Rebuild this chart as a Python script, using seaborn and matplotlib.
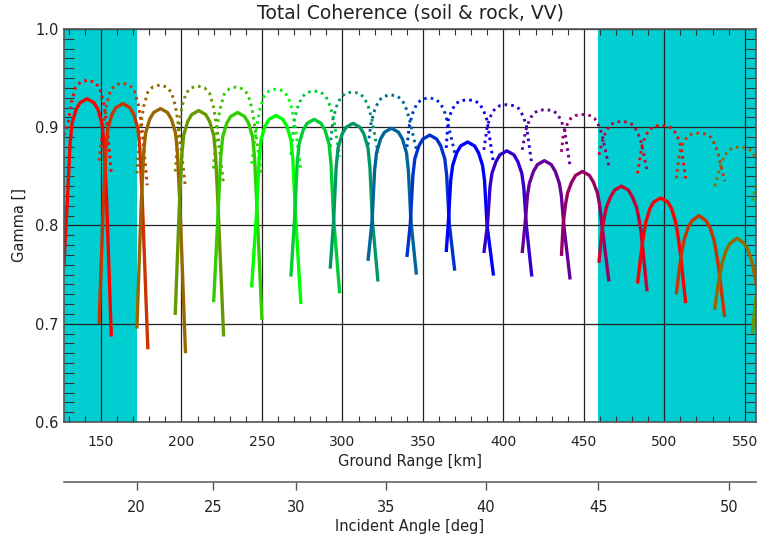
import numpy as np
import pandas as pd
import matplotlib
matplotlib.use("Agg")
import matplotlib.pyplot as plt
from matplotlib.ticker import MultipleLocator, FormatStrFormatter
import seaborn as sns

# --- data ----------------------------------------------------------------
# ground range [km] and coherence of the points along every solid arch
solid_km = [
    [126.9, 129.2, 130.8, 132.0, 134.5, 137.0, 141.3, 145.6, 148.1, 150.6, 151.8, 153.4, 156.4],
    [148.8, 151.5, 153.1, 154.3, 156.8, 159.3, 163.6, 167.9, 170.4, 172.9, 174.1, 175.7, 179.1],
    [172.3, 174.9, 176.5, 177.7, 180.2, 182.7, 187.0, 191.3, 193.8, 196.3, 197.5, 199.1, 202.5],
    [196.1, 198.6, 200.2, 201.4, 203.9, 206.4, 210.7, 215.0, 217.5, 220.0, 221.2, 222.8, 226.2],
    [220.0, 222.8, 224.4, 225.6, 228.1, 230.6, 234.9, 239.2, 241.7, 244.2, 245.4, 247.0, 250.0],
    [243.6, 246.6, 248.2, 249.4, 251.9, 254.4, 258.7, 263.0, 265.5, 268.0, 269.2, 270.8, 274.2],
    [268.0, 270.3, 271.9, 273.1, 275.6, 278.1, 282.4, 286.7, 289.2, 291.7, 292.9, 294.5, 298.3],
    [292.4, 294.5, 296.1, 297.3, 299.8, 302.3, 306.6, 310.9, 313.4, 315.9, 317.1, 318.7, 322.1],
    [315.9, 318.4, 320.0, 321.2, 323.7, 326.2, 330.5, 334.8, 337.3, 339.8, 341.0, 342.6, 346.0],
    [340.1, 342.2, 343.8, 345.0, 347.5, 350.0, 354.3, 358.6, 361.1, 363.6, 364.8, 366.4, 369.8],
    [364.5, 365.7, 367.3, 368.5, 371.0, 373.5, 377.8, 382.1, 384.6, 387.1, 388.3, 389.9, 393.9],
    [387.9, 390.1, 391.7, 392.9, 395.4, 397.9, 402.2, 406.5, 409.0, 411.5, 412.7, 414.3, 417.7],
    [411.7, 413.4, 415.0, 416.2, 418.7, 421.2, 425.5, 429.8, 432.3, 434.8, 436.0, 437.6, 441.5],
    [436.1, 437.1, 438.7, 439.9, 442.4, 444.9, 449.2, 453.5, 456.0, 458.5, 459.7, 461.3, 465.6],
    [459.4, 461.3, 462.9, 464.1, 466.6, 469.1, 473.4, 477.7, 480.2, 482.7, 483.9, 485.5, 489.3],
    [483.4, 485.7, 487.3, 488.5, 491.0, 493.5, 497.8, 502.1, 504.6, 507.1, 508.3, 509.9, 513.3],
    [507.5, 509.5, 511.1, 512.3, 514.8, 517.3, 521.6, 525.9, 528.4, 530.9, 532.1, 533.7, 537.5],
    [531.3, 533.2, 534.8, 536.0, 538.5, 541.0, 545.3, 549.6, 552.1, 554.6, 555.8, 557.4, 561.0],
    [554.7, 557.6],
]
solid_gamma = [
    [0.758, 0.829, 0.884, 0.904, 0.918, 0.925, 0.929, 0.925, 0.918, 0.904, 0.884, 0.829, 0.687],
    [0.700, 0.824, 0.879, 0.899, 0.913, 0.920, 0.924, 0.920, 0.913, 0.899, 0.879, 0.824, 0.674],
    [0.695, 0.819, 0.874, 0.894, 0.908, 0.915, 0.919, 0.915, 0.908, 0.894, 0.874, 0.819, 0.670],
    [0.709, 0.817, 0.872, 0.892, 0.906, 0.913, 0.917, 0.913, 0.906, 0.892, 0.872, 0.817, 0.687],
    [0.722, 0.815, 0.870, 0.890, 0.904, 0.911, 0.915, 0.911, 0.904, 0.890, 0.870, 0.815, 0.704],
    [0.737, 0.812, 0.867, 0.887, 0.901, 0.908, 0.912, 0.908, 0.901, 0.887, 0.867, 0.812, 0.720],
    [0.748, 0.808, 0.863, 0.883, 0.897, 0.904, 0.908, 0.904, 0.897, 0.883, 0.863, 0.808, 0.731],
    [0.756, 0.804, 0.859, 0.879, 0.893, 0.900, 0.904, 0.900, 0.893, 0.879, 0.859, 0.804, 0.743],
    [0.764, 0.804, 0.856, 0.874, 0.888, 0.895, 0.899, 0.895, 0.888, 0.874, 0.856, 0.804, 0.750],
    [0.768, 0.802, 0.851, 0.868, 0.881, 0.888, 0.892, 0.888, 0.881, 0.868, 0.851, 0.802, 0.754],
    [0.773, 0.800, 0.846, 0.861, 0.874, 0.881, 0.885, 0.881, 0.874, 0.861, 0.846, 0.800, 0.749],
    [0.772, 0.800, 0.839, 0.853, 0.865, 0.872, 0.876, 0.872, 0.865, 0.853, 0.839, 0.800, 0.748],
    [0.772, 0.800, 0.831, 0.843, 0.855, 0.862, 0.866, 0.862, 0.855, 0.843, 0.831, 0.800, 0.745],
    [0.769, 0.800, 0.822, 0.833, 0.844, 0.851, 0.855, 0.851, 0.844, 0.833, 0.822, 0.800, 0.743],
    [0.762, 0.795, 0.810, 0.819, 0.829, 0.836, 0.840, 0.836, 0.829, 0.819, 0.810, 0.795, 0.733],
    [0.741, 0.773, 0.792, 0.803, 0.817, 0.824, 0.828, 0.824, 0.817, 0.803, 0.792, 0.773, 0.721],
    [0.730, 0.758, 0.775, 0.785, 0.798, 0.805, 0.810, 0.805, 0.798, 0.785, 0.775, 0.758, 0.707],
    [0.714, 0.737, 0.752, 0.762, 0.775, 0.782, 0.787, 0.782, 0.775, 0.762, 0.752, 0.737, 0.690],
    [0.690, 0.735],
]

# the dotted arches above them
dotted_km = [
    [126.9, 129.5, 131.7, 134.2, 137.3, 141.6, 145.9, 149.0, 151.5, 153.7, 156.4],
    [148.8, 151.2, 153.4, 155.9, 159.0, 163.3, 167.6, 170.7, 173.2, 175.4, 178.7],
    [172.3, 174.3, 176.5, 179.0, 182.1, 186.4, 190.7, 193.8, 196.3, 198.5, 202.5],
    [196.1, 198.0, 200.2, 202.7, 205.8, 210.1, 214.4, 217.5, 220.0, 222.2, 226.2],
    [219.8, 221.8, 224.0, 226.5, 229.6, 233.9, 238.2, 241.3, 243.8, 246.0, 249.8],
    [243.6, 246.6, 248.8, 251.3, 254.4, 258.7, 263.0, 266.1, 268.6, 270.8, 274.2],
    [268.0, 270.3, 272.5, 275.0, 278.1, 282.4, 286.7, 289.8, 292.3, 294.5, 298.3],
    [292.4, 294.1, 296.3, 298.8, 301.9, 306.2, 310.5, 313.6, 316.1, 318.3, 322.1],
    [315.9, 317.9, 320.1, 322.6, 325.7, 330.0, 334.3, 337.4, 339.9, 342.1, 346.0],
    [340.1, 341.6, 343.8, 346.3, 349.4, 353.7, 358.0, 361.1, 363.6, 365.8, 369.8],
    [364.5, 365.7, 367.9, 370.4, 373.5, 377.8, 382.1, 385.2, 387.7, 389.9, 393.9],
    [387.9, 390.1, 392.3, 394.8, 397.9, 402.2, 406.5, 409.6, 412.1, 414.3, 417.7],
    [411.7, 413.9, 416.1, 418.6, 421.7, 426.0, 430.3, 433.4, 435.9, 438.1, 441.5],
    [436.1, 437.2, 439.4, 441.9, 445.0, 449.3, 453.6, 456.7, 459.2, 461.4, 465.6],
    [459.4, 461.4, 463.6, 466.1, 469.2, 473.5, 477.8, 480.9, 483.4, 485.6, 489.3],
    [483.4, 486.1, 488.3, 490.8, 493.9, 498.2, 502.5, 505.6, 508.1, 510.3, 513.3],
    [507.5, 509.3, 511.5, 514.0, 517.1, 521.4, 525.7, 528.8, 531.3, 533.5, 537.5],
    [531.3, 534.7, 536.9, 539.4, 542.5, 546.8, 551.1, 554.2, 556.7, 558.9, 562.0],
    [554.9, 557.5],
]
dotted_gamma = [
    [0.892, 0.903, 0.926, 0.9405, 0.946, 0.948, 0.946, 0.9405, 0.926, 0.903, 0.853],
    [0.866, 0.900, 0.923, 0.9375, 0.943, 0.945, 0.943, 0.9375, 0.923, 0.900, 0.841],
    [0.853, 0.898, 0.921, 0.9355, 0.941, 0.943, 0.941, 0.9355, 0.921, 0.898, 0.838],
    [0.855, 0.897, 0.920, 0.9345, 0.940, 0.942, 0.940, 0.9345, 0.920, 0.897, 0.841],
    [0.858, 0.896, 0.919, 0.9335, 0.939, 0.941, 0.939, 0.9335, 0.919, 0.896, 0.850],
    [0.863, 0.899, 0.919, 0.9315, 0.937, 0.939, 0.937, 0.9315, 0.919, 0.899, 0.856],
    [0.872, 0.909, 0.922, 0.931, 0.9355, 0.937, 0.9355, 0.931, 0.922, 0.909, 0.870],
    [0.880, 0.908, 0.921, 0.930, 0.9345, 0.936, 0.9345, 0.930, 0.921, 0.908, 0.874],
    [0.882, 0.905, 0.918, 0.927, 0.9315, 0.933, 0.9315, 0.927, 0.918, 0.905, 0.877],
    [0.880, 0.902, 0.915, 0.924, 0.9285, 0.930, 0.9285, 0.924, 0.915, 0.902, 0.874],
    [0.879, 0.907, 0.917, 0.924, 0.927, 0.928, 0.927, 0.924, 0.917, 0.907, 0.863],
    [0.877, 0.902, 0.912, 0.919, 0.922, 0.923, 0.922, 0.919, 0.912, 0.902, 0.862],
    [0.877, 0.897, 0.907, 0.914, 0.917, 0.918, 0.917, 0.914, 0.907, 0.897, 0.860],
    [0.875, 0.892, 0.902, 0.909, 0.912, 0.913, 0.912, 0.909, 0.902, 0.892, 0.860],
    [0.872, 0.885, 0.895, 0.902, 0.905, 0.906, 0.905, 0.902, 0.895, 0.885, 0.856],
    [0.853, 0.881, 0.891, 0.898, 0.901, 0.902, 0.901, 0.898, 0.891, 0.881, 0.848],
    [0.848, 0.873, 0.883, 0.890, 0.893, 0.894, 0.893, 0.890, 0.883, 0.873, 0.845],
    [0.840, 0.859, 0.869, 0.876, 0.879, 0.880, 0.879, 0.876, 0.869, 0.859, 0.830],
    [0.825, 0.845],
]

arch_colors = ["#ff0000", "#cc3300", "#996600", "#669900", "#33cc00",
               "#00ff00", "#00cc33", "#009966", "#006699", "#0033cc",
               "#0000ff", "#3300cc", "#660099", "#990066", "#cc0033",
               "#ff0000", "#cc3300", "#996600", "#669900"]

# incident angle axis: angle labels and where they sit in ground range
angle_labels = [20, 25, 30, 35, 40, 45, 50]
angle_km = [172.1, 219.8, 271.1, 327.2, 389.2, 459.0, 540.0]

range_min, range_max = 127.0, 557.0
band_near_km = 172.1   # 20 deg
band_far_km = 459.0    # 45 deg

# --- long form table for seaborn ------------------------------------------
def to_frame(xs_list, ys_list):
    rows = []
    for i, (xs, ys) in enumerate(zip(xs_list, ys_list)):
        for x, y in zip(xs, ys):
            rows.append({"arch": f"a{i:02d}", "range": x, "gamma": y})
    return pd.DataFrame(rows)

solid_df = to_frame(solid_km, solid_gamma)
dotted_df = to_frame(dotted_km, dotted_gamma)
palette = {f"a{i:02d}": c for i, c in enumerate(arch_colors)}

sns.set_style("ticks")
plt.rcParams["font.family"] = ["DejaVu Sans"]
text_col = "#222222"

fig = plt.figure(figsize=(7.57, 5.42), dpi=100)
ax = fig.add_axes([64 / 757, 1 - 422 / 542, (756 - 64) / 757, (422 - 29) / 542])

ax.axvspan(range_min, band_near_km, color="#00CED1", lw=0, zorder=0.1)
ax.axvspan(band_far_km, range_max, color="#00CED1", lw=0, zorder=0.1)

sns.lineplot(data=dotted_df, x="range", y="gamma", hue="arch", palette=palette,
             estimator=None, errorbar=None, sort=False, legend=False, ax=ax,
             lw=2.1, linestyle=(0, (0.9, 1.4)), dash_capstyle="butt")
sns.lineplot(data=solid_df, x="range", y="gamma", hue="arch", palette=palette,
             estimator=None, errorbar=None, sort=False, legend=False, ax=ax,
             lw=2.4, solid_capstyle="butt", solid_joinstyle="round")

ax.set_xlim(range_min, range_max)
ax.set_ylim(0.6, 1.0)
ax.xaxis.set_major_locator(MultipleLocator(50))
ax.xaxis.set_minor_locator(MultipleLocator(10))
ax.yaxis.set_major_locator(MultipleLocator(0.1))
ax.yaxis.set_minor_locator(MultipleLocator(0.01))
ax.yaxis.set_major_formatter(FormatStrFormatter("%.1f"))
ax.set_axisbelow(True)
ax.grid(True, which="major", color="#222222", lw=0.9)
ax.tick_params(which="both", direction="in", top=True, right=True,
               color="#333333", labelcolor=text_col, labelsize=10.5)
ax.tick_params(which="major", length=0)
ax.tick_params(axis="x", which="major", pad=9, labelsize=10)
ax.tick_params(axis="y", which="major", pad=4)
ax.tick_params(axis="x", which="minor", length=4, width=0.8)
ax.tick_params(axis="y", which="minor", length=7, width=0.8)
for s in ax.spines.values():
    s.set_color("#555555")
    s.set_linewidth(1.2)

ax.set_title("Total Coherence (soil & rock, VV)", fontsize=13.5, color=text_col, pad=7.5)
ax.set_xlabel("Ground Range [km]", fontsize=10.5, color=text_col, labelpad=4)
ax.set_ylabel("Gamma []", fontsize=10.5, color=text_col, labelpad=6)

# second x axis with the incident angle
ax2 = fig.add_axes([64 / 757, 1 - 482 / 542, (756 - 64) / 757, 1e-4])
ax2.patch.set_visible(False)
ax2.set_xlim(range_min, range_max)
ax2.set_yticks([])
for s in ["top", "left", "right"]:
    ax2.spines[s].set_visible(False)
ax2.spines["bottom"].set_color("#666666")
ax2.spines["bottom"].set_linewidth(1.2)
ax2.set_xticks(angle_km)
ax2.set_xticklabels([str(a) for a in angle_labels])
ax2.tick_params(axis="x", direction="out", length=6, width=1.0, color="#555555",
                labelcolor=text_col, labelsize=10.5, pad=7)
ax2.set_xlabel("Incident Angle [deg]", fontsize=10.5, color=text_col, labelpad=3)

fig.savefig("out.png", dpi=100)
